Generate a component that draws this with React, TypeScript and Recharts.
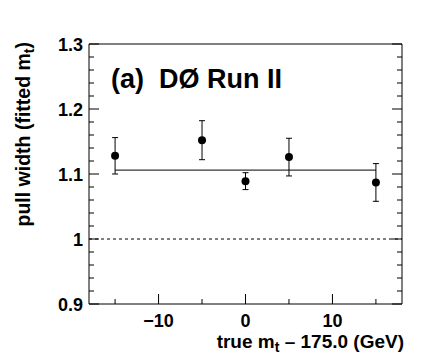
import {
  ComposedChart,
  ErrorBar,
  ReferenceLine,
  Scatter,
  XAxis,
  YAxis,
} from "recharts";

const massShift = [-15, -5, 0, 5, 15];
const pullWidth = [1.128, 1.152, 1.089, 1.126, 1.087];
const pullWidthErr = [0.028, 0.03, 0.013, 0.029, 0.029];

const fitRange = [-15, 15];
const fitValue = 1.106;

const X_MAJOR = [-10, 0, 10];
const X_MINOR = [-15, -5, 5, 15];
const Y_MAJOR = [0.9, 1, 1.1, 1.2, 1.3];
const Y_MINOR = [
  0.92, 0.94, 0.96, 0.98, 1.02, 1.04, 1.06, 1.08, 1.12, 1.14, 1.16, 1.18, 1.22,
  1.24, 1.26, 1.28,
];

const FONT = "'Liberation Sans', Arial, Helvetica, sans-serif";
const MAJOR_LEN = 10;
const MINOR_LEN = 5;

const points = massShift.map((x, i) => ({
  x,
  y: pullWidth[i],
  err: pullWidthErr[i],
}));

const isMajor = (list: number[], v: number) => list.some((m) => Math.abs(m - v) < 1e-6);

const fmtX = (v: number) => (v < 0 ? `\u2212${Math.abs(v)}` : String(v));

function makeTick(side: "left" | "right" | "top" | "bottom") {
  return (props: any) => {
    const { x, y, payload } = props;
    const v = payload.value as number;
    const major = side === "left" || side === "right" ? isMajor(Y_MAJOR, v) : isMajor(X_MAJOR, v);
    const len = major ? MAJOR_LEN : MINOR_LEN;
    let line;
    if (side === "left") line = <line x1={x} y1={y} x2={x + len} y2={y} stroke="#000" />;
    else if (side === "right") line = <line x1={x} y1={y} x2={x - len} y2={y} stroke="#000" />;
    else if (side === "top") line = <line x1={x} y1={y} x2={x} y2={y + len} stroke="#000" />;
    else line = <line x1={x} y1={y} x2={x} y2={y - len} stroke="#000" />;
    return (
      <g>
        {line}
        {major && side === "left" && (
          <text x={x - 6} y={y + 7} textAnchor="end" fontSize={18} fontWeight="bold" fontFamily={FONT} fill="#000">
            {String(v)}
          </text>
        )}
        {major && side === "bottom" && (
          <text x={x} y={y + 23} textAnchor="middle" fontSize={18} fontWeight="bold" fontFamily={FONT} fill="#000">
            {fmtX(v)}
          </text>
        )}
      </g>
    );
  };
}

const Dot = (props: any) => <circle cx={props.cx} cy={props.cy} r={4} fill="#000" />;

export default function App() {
  const yTicks = [...Y_MAJOR, ...Y_MINOR];
  const xTicks = [...X_MAJOR, ...X_MINOR];
  return (
    <div style={{ position: "absolute", left: 0, top: 0, width: 448, height: 363, background: "#fff" }}>
      <ComposedChart width={448} height={363} margin={{ top: 0, right: 0, bottom: 0, left: 0 }}>
        <XAxis
          xAxisId="bottom"
          type="number"
          dataKey="x"
          domain={[-18, 18]}
          ticks={xTicks}
          orientation="bottom"
          height={59}
          tickSize={0}
          tickMargin={0}
          tickLine={false}
          axisLine={{ stroke: "#000" }}
          tick={makeTick("bottom")}
          interval={0}
          allowDataOverflow
        />
        <XAxis
          xAxisId="top"
          type="number"
          domain={[-18, 18]}
          ticks={xTicks}
          orientation="top"
          height={44}
          tickSize={0}
          tickMargin={0}
          tickLine={false}
          axisLine={{ stroke: "#000" }}
          tick={makeTick("top")}
          interval={0}
          allowDataOverflow
        />
        <YAxis
          yAxisId="left"
          type="number"
          dataKey="y"
          domain={[0.9, 1.3]}
          ticks={yTicks}
          orientation="left"
          width={89}
          tickSize={0}
          tickMargin={0}
          tickLine={false}
          axisLine={{ stroke: "#000" }}
          tick={makeTick("left")}
          interval={0}
          allowDataOverflow
        />
        <YAxis
          yAxisId="right"
          type="number"
          domain={[0.9, 1.3]}
          ticks={yTicks}
          orientation="right"
          width={46}
          tickSize={0}
          tickMargin={0}
          tickLine={false}
          axisLine={{ stroke: "#000" }}
          tick={makeTick("right")}
          interval={0}
          allowDataOverflow
        />
        <ReferenceLine
          xAxisId="bottom"
          yAxisId="left"
          y={1}
          stroke="#000"
          strokeDasharray="3 3"
        />
        <ReferenceLine
          xAxisId="bottom"
          yAxisId="left"
          segment={[
            { x: fitRange[0], y: fitValue },
            { x: fitRange[1], y: fitValue },
          ]}
          stroke="#000"
        />
        <Scatter
          xAxisId="bottom"
          yAxisId="left"
          data={points}
          dataKey="y"
          shape={Dot}
          isAnimationActive={false}
        >
          <ErrorBar dataKey="err" direction="y" width={3} stroke="#000" strokeWidth={1} />
        </Scatter>
      </ComposedChart>
      <svg
        width={448}
        height={363}
        style={{ position: "absolute", left: 0, top: 0, pointerEvents: "none" }}
      >
        <text x={111} y={88} fontSize={27} fontWeight="bold" fontFamily={FONT} fill="#000" style={{ whiteSpace: "pre" }}>
          {"(a)  D\u00d8 Run II"}
        </text>
        <text x={404} y={348} textAnchor="end" fontSize={19} fontWeight="bold" fontFamily={FONT} fill="#000">
          true m<tspan fontSize={14} dy={4}>t</tspan>
          <tspan dy={-4}>{" \u2013 175.0 (GeV)"}</tspan>
        </text>
        <text
          transform="translate(30, 42) rotate(-90)"
          textAnchor="end"
          fontSize={19.5}
          fontWeight="bold"
          fontFamily={FONT}
          fill="#000"
        >
          pull width (fitted m<tspan fontSize={14} dy={4}>t</tspan>
          <tspan dy={-4}>)</tspan>
        </text>
      </svg>
    </div>
  );
}
